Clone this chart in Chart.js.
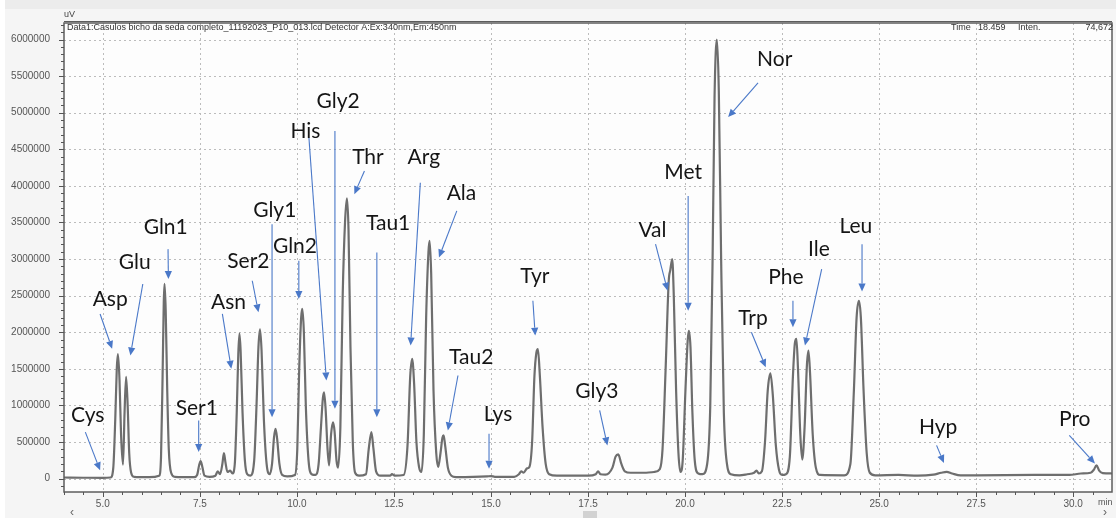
<!DOCTYPE html>
<html><head><meta charset="utf-8">
<script src="https://cdn.jsdelivr.net/npm/chart.js@4/dist/chart.umd.min.js"></script>
<style>html,body{margin:0;padding:0;background:#fff;}canvas{display:block;}</style>
</head><body>
<canvas id="c" width="1116" height="518"></canvas>
<script>
// ---- data (time in min, signal in uV) ----
const times = [
  4.00,4.50,5.00,5.20,5.27,5.32,5.36,5.39,5.43,5.47,5.52,5.56,5.60,5.64,5.68,5.73,5.80,
  6.20,6.45,6.50,6.54,6.57,6.59,6.62,6.66,6.70,6.76,6.85,
  7.35,7.43,7.48,7.52,7.56,7.62,7.75,7.90,7.96,8.02,8.08,8.12,8.16,8.21,8.28,8.34,
  8.40,8.45,8.49,8.52,8.55,8.60,8.66,8.72,8.80,8.90,8.96,9.01,9.05,9.09,9.15,9.22,9.30,
  9.36,9.41,9.45,9.49,9.55,9.62,9.75,9.95,10.01,10.06,10.11,10.14,10.18,10.23,10.30,10.38,
  10.48,10.56,10.62,10.67,10.70,10.74,10.79,10.83,10.88,10.93,10.97,11.02,11.06,
  11.12,11.18,11.24,11.29,11.33,11.38,11.44,11.50,11.60,11.78,11.85,11.92,11.97,12.04,12.15,
  12.40,12.45,12.52,12.75,12.85,12.92,12.97,13.02,13.08,13.15,13.21,13.27,13.33,13.39,13.42,13.46,13.52,13.59,13.64,13.70,13.75,13.78,13.82,13.89,13.98,14.10,
  14.90,15.00,15.10,15.60,15.72,15.78,15.84,15.93,15.99,16.06,16.12,16.17,16.21,16.26,16.33,16.41,16.50,16.70,
  17.50,17.70,17.76,17.82,17.95,18.13,18.21,18.28,18.36,18.45,18.60,19.00,19.20,19.35,19.42,19.50,19.58,19.62,19.67,19.71,19.77,19.83,19.88,19.94,20.01,20.07,20.10,20.14,20.19,20.25,20.34,20.45,20.57,20.65,20.71,20.76,20.82,20.87,20.93,21.00,21.08,21.18,
  21.40,21.60,21.78,21.84,21.90,21.98,22.06,22.13,22.20,22.26,22.34,22.42,22.50,22.60,22.70,22.78,22.83,22.87,22.91,22.97,23.02,23.08,23.14,23.18,23.22,23.29,23.37,23.48,
  24.10,24.26,24.35,24.42,24.48,24.53,24.60,24.68,24.76,24.90,25.50,26.00,26.40,26.60,26.74,26.88,27.10,27.50,29.00,29.90,30.20,30.45,30.53,30.60,30.67,30.76,31.00
];
const signals = [
  15000,12000,10000,15000,150000,800000,1500000,1700000,1350000,600000,190000,900000,1390000,1000000,350000,80000,25000,
  20000,40000,300000,1400000,2400000,2660000,2300000,1200000,400000,80000,25000,
  20000,50000,180000,240000,170000,40000,25000,40000,100000,60000,200000,350000,220000,90000,110000,70000,
  200000,900000,1700000,1980000,1750000,900000,250000,60000,40000,250000,1000000,1800000,2040000,1750000,800000,200000,60000,
  200000,560000,680000,550000,200000,50000,30000,50000,400000,1500000,2200000,2320000,2000000,1000000,250000,60000,
  50000,200000,700000,1100000,1180000,950000,400000,180000,600000,770000,650000,250000,150000,
  700000,2500000,3500000,3830000,3400000,1800000,500000,80000,40000,60000,400000,636000,420000,100000,40000,
  40000,60000,40000,50000,450000,1400000,1636000,1300000,500000,150000,90000,600000,2200000,3100000,3250000,2800000,1200000,350000,160000,350000,560000,590000,450000,150000,40000,20000,
  30000,35000,25000,25000,60000,100000,80000,140000,160000,500000,1400000,1720000,1770000,1400000,700000,200000,60000,40000,
  40000,60000,100000,60000,55000,150000,300000,330000,200000,100000,80000,80000,90000,130000,400000,1500000,2700000,2850000,3000000,2500000,1200000,350000,90000,250000,1200000,1900000,2020000,1800000,900000,250000,70000,60000,200000,1000000,3000000,5200000,6000000,5300000,3000000,900000,200000,60000,
  45000,60000,80000,110000,70000,100000,500000,1200000,1440000,1150000,450000,120000,50000,60000,300000,1400000,1850000,1910000,1500000,600000,260000,700000,1550000,1750000,1450000,600000,150000,50000,
  45000,200000,1200000,2200000,2430000,2200000,1200000,350000,80000,45000,50000,40000,55000,80000,92000,70000,45000,45000,50000,50000,70000,80000,120000,180000,110000,75000,70000
];
const xTickValues = [5.0,7.5,10.0,12.5,15.0,17.5,20.0,22.5,25.0,27.5,30.0];
const yTickValues = [0,500000,1000000,1500000,2000000,2500000,3000000,3500000,4000000,4500000,5000000,5500000,6000000];
const peakNames = ['Cys','Asp','Glu','Gln1','Ser1','Asn','Ser2','Gly1','Gln2','His','Gly2','Thr','Tau1','Arg','Ala','Tau2','Lys','Tyr','Gly3','Val','Met','Nor','Trp','Phe','Ile','Leu','Hyp','Pro'];

// ---- annotation layout (label centre, arrow tail, arrow tip) in axis units ----
const peakLabelLayout = [
  [4.61,866000, 4.55,635000, 4.93,113000],
  [5.19,2454000, 4.93,2250000, 5.24,1773000],
  [5.82,2954000, 6.03,2659000, 5.71,1681000],
  [6.62,3431000, 6.68,3136000, 6.69,2727000],
  [7.42,955000, 7.47,795000, 7.47,363000],
  [8.24,2408000, 8.08,2250000, 8.31,1500000],
  [8.75,2967000, 8.85,2704000, 9.01,2272000],
  [9.43,3668000, 9.36,3477000, 9.36,840000],
  [9.95,3181000, 10.05,2977000, 10.05,2454000],
  [10.22,4749000, 10.31,4658000, 10.76,1340000],
  [11.06,5159000, 10.98,4749000, 10.98,955000],
  [11.83,4395000, 11.74,4204000, 11.48,3886000],
  [12.35,3491000, 12.06,3090000, 12.06,840000],
  [13.27,4385000, 13.18,4044000, 12.93,1818000],
  [14.24,3894000, 14.12,3659000, 13.66,3022000],
  [14.49,1658000, 14.15,1409000, 13.89,659000],
  [15.18,886000, 14.95,614000, 14.95,136000],
  [16.13,2772000, 16.08,2431000, 16.14,1954000],
  [17.73,1195000, 17.80,931000, 18.00,454000],
  [19.16,3395000, 19.24,3204000, 19.55,2568000],
  [19.95,4181000, 20.08,3863000, 20.08,2295000],
  [22.31,5727000, 21.88,5408000, 21.11,4940000],
  [21.75,2190000, 21.71,1999000, 22.08,1522000],
  [22.60,2749000, 22.78,2431000, 22.78,2067000],
  [23.45,3136000, 23.52,2864000, 23.09,1818000],
  [24.40,3454000, 24.56,3204000, 24.56,2558000],
  [26.52,704000, 26.48,454000, 26.67,213000],
  [30.04,818000, 29.90,590000, 30.56,205000]
];

const headerText = 'Data1:Casulos bicho da seda completo_11192023_P10_013.lcd Detector A:Ex:340nm,Em:450nm';

const n = Math.min(times.length, signals.length);
const points = [];
for (let i = 0; i < n; i++) points.push({x: times[i], y: signals[i]});

const SMALL_FONT = '9px "Liberation Sans", Arial, sans-serif';
const LABEL_FONT = '21px Lato, "Open Sans", sans-serif';

const deco = {
  id: 'deco',
  beforeDraw(chart) {
    const {ctx, chartArea: a, width, height} = chart;
    ctx.save();
    ctx.fillStyle = '#f5f5f5'; ctx.fillRect(0, 0, width, height);
    ctx.fillStyle = '#ffffff'; ctx.fillRect(0, 0, 5, height);
    ctx.fillStyle = '#ececec'; ctx.fillRect(5, 0, width - 5, 9);
    ctx.fillStyle = '#fdfdfd'; ctx.fillRect(a.left, a.top, a.right - a.left, a.bottom - a.top);
    ctx.restore();
  },
  beforeDatasetsDraw(chart) {
    const {ctx, chartArea: a, scales: {x, y}} = chart;
    ctx.save();
    ctx.strokeStyle = '#bcbcbc';
    ctx.lineWidth = 1;
    ctx.setLineDash([2, 3]);
    for (const v of yTickValues) {
      const py = Math.round(y.getPixelForValue(v)) + 0.5;
      ctx.beginPath(); ctx.moveTo(a.left, py); ctx.lineTo(a.right, py); ctx.stroke();
    }
    for (const v of xTickValues) {
      const px = Math.round(x.getPixelForValue(v)) + 0.5;
      ctx.beginPath(); ctx.moveTo(px, a.top); ctx.lineTo(px, a.bottom); ctx.stroke();
    }
    ctx.restore();
  },
  afterDraw(chart) {
    const {ctx, chartArea: a, scales: {x, y}} = chart;
    ctx.save();
    // frame
    ctx.strokeStyle = '#5c5c5c';
    ctx.lineWidth = 1.5;
    ctx.strokeRect(a.left, a.top, a.right - a.left, a.bottom - a.top);
    ctx.lineWidth = 1;
    ctx.beginPath(); ctx.moveTo(a.left, a.top - 1.5); ctx.lineTo(a.right, a.top - 1.5); ctx.stroke();
    // y ticks
    ctx.strokeStyle = '#555';
    ctx.lineWidth = 1;
    for (let v = -100000; v <= 6200000; v += 100000) {
      const py = Math.round(y.getPixelForValue(v)) + 0.5;
      if (py < a.top || py > a.bottom) continue;
      const major = v % 500000 === 0;
      ctx.beginPath(); ctx.moveTo(a.left - (major ? 5 : 3), py); ctx.lineTo(a.left, py); ctx.stroke();
    }
    // x ticks
    for (let k = 8; k <= 62; k++) {
      const v = k / 2;
      const px = Math.round(x.getPixelForValue(v)) + 0.5;
      if (px < a.left || px > a.right) continue;
      const major = (k % 5 === 0);
      ctx.beginPath(); ctx.moveTo(px, a.bottom); ctx.lineTo(px, a.bottom + (major ? 5 : 3)); ctx.stroke();
    }
    // header texts
    ctx.fillStyle = '#444';
    ctx.font = SMALL_FONT;
    ctx.textBaseline = 'middle';
    ctx.textAlign = 'left';
    ctx.fillText('uV', a.left, 15);
    ctx.fillStyle = '#333';
    ctx.fillText(headerText, a.left + 3, 28);
    ctx.fillText('Time', 951, 28);
    ctx.fillText('18.459', 978, 28);
    ctx.fillText('Inten.', 1018, 28);
    ctx.textAlign = 'right';
    ctx.fillText('74,672', 1113, 28);
    ctx.textAlign = 'left';
    ctx.fillStyle = '#555';
    ctx.fillText('min', a.right - 14, 503);
    // scrollbar hints
    ctx.fillStyle = '#666';
    ctx.font = '12px "Liberation Sans", Arial, sans-serif';
    ctx.fillText('\u2039', 70, 513);
    ctx.fillText('\u203A', 1103, 513);
    ctx.fillStyle = '#d2d2d2';
    ctx.fillRect(583, 511, 14, 7);

    // peak annotations
    ctx.strokeStyle = '#4a78c8';
    ctx.fillStyle = '#4a78c8';
    ctx.lineWidth = 1.1;
    for (let i = 0; i < peakNames.length; i++) {
      const L = peakLabelLayout[i];
      const tx = x.getPixelForValue(L[2]), ty = y.getPixelForValue(L[3]);
      const hx = x.getPixelForValue(L[4]), hy = y.getPixelForValue(L[5]);
      const ang = Math.atan2(hy - ty, hx - tx);
      const hl = 8, hw = 3.6;
      const bx = hx - hl * Math.cos(ang), by = hy - hl * Math.sin(ang);
      ctx.beginPath(); ctx.moveTo(tx, ty); ctx.lineTo(bx, by); ctx.stroke();
      ctx.beginPath();
      ctx.moveTo(hx, hy);
      ctx.lineTo(bx + hw * Math.sin(ang), by - hw * Math.cos(ang));
      ctx.lineTo(bx - hw * Math.sin(ang), by + hw * Math.cos(ang));
      ctx.closePath(); ctx.fill();
    }
    ctx.fillStyle = '#151515';
    ctx.font = LABEL_FONT;
    ctx.textAlign = 'center';
    ctx.textBaseline = 'middle';
    for (let i = 0; i < peakNames.length; i++) {
      const L = peakLabelLayout[i];
      ctx.fillText(peakNames[i], x.getPixelForValue(L[0]), y.getPixelForValue(L[1]));
    }
    ctx.restore();
  }
};

new Chart(document.getElementById('c'), {
  type: 'line',
  data: {
    datasets: [{
      data: points,
      borderColor: '#6e6e6e',
      borderWidth: 2.2,
      pointRadius: 0,
      fill: false,
      cubicInterpolationMode: 'monotone'
    }]
  },
  options: {
    responsive: false,
    animation: false,
    devicePixelRatio: 1,
    events: [],
    layout: {padding: {left: 0, top: 23, right: 4, bottom: 0}},
    plugins: {legend: {display: false}, tooltip: {enabled: false}},
    scales: {
      x: {
        type: 'linear', min: 4.0, max: 31.0,
        afterBuildTicks: s => { s.ticks = xTickValues.map(v => ({value: v})); },
        afterFit: s => { s.height = 26; },
        grid: {display: false},
        border: {display: false},
        ticks: {
          padding: -2, autoSkip: false, maxRotation: 0, color: '#555',
          font: {family: '"Liberation Sans", Arial, sans-serif', size: 10},
          callback: v => Number(v).toFixed(1)
        }
      },
      y: {
        type: 'linear', min: -183000, max: 6226000,
        afterBuildTicks: s => { s.ticks = yTickValues.map(v => ({value: v})); },
        afterFit: s => { s.width = 64; },
        grid: {display: false},
        border: {display: false},
        ticks: {
          padding: 6, color: '#555',
          font: {family: '"Liberation Sans", Arial, sans-serif', size: 10},
          callback: v => String(v)
        }
      }
    }
  },
  plugins: [deco]
});
</script>
</body></html>
